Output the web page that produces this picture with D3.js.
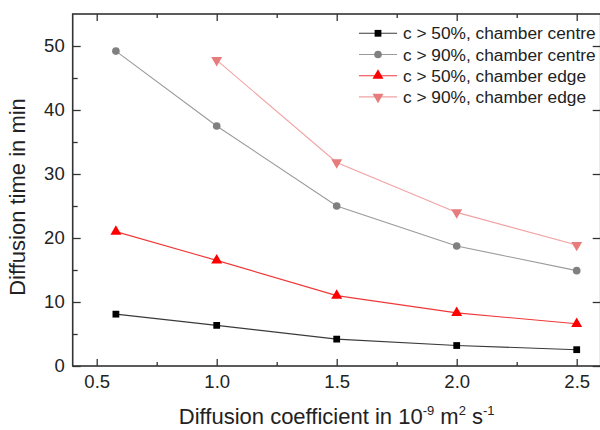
<!DOCTYPE html>
<html>
<head>
<meta charset="utf-8">
<script src="https://cdn.jsdelivr.net/npm/d3@7"></script>
<style>
  html, body { margin: 0; padding: 0; background: #fff; }
  svg { display: block; font-family: "Liberation Sans", Arial, sans-serif; }
</style>
</head>
<body>
<svg id="chart" width="600" height="430"></svg>
<script>
// Diffusion coefficient (10^-9 m^2/s)
const coeffs = [0.58, 1.0, 1.5, 2.0, 2.5];
// Diffusion times in min
const center50 = [8.1, 6.35, 4.2, 3.2, 2.55];
const center90 = [49.2, 37.5, 25.0, 18.75, 14.9];
const edge50   = [21.0, 16.5, 11.0, 8.3, 6.6];
const edge90   = [null, 47.8, 31.8, 24.0, 18.9];

const seriesNames = [
  "c > 50%, chamber centre",
  "c > 90%, chamber centre",
  "c > 50%, chamber edge",
  "c > 90%, chamber edge"
];
const xTicks = [0.5, 1.0, 1.5, 2.0, 2.5];
const yTicks = [0, 10, 20, 30, 40, 50];

const series = [
  { name: seriesNames[0], values: center50, symbol: d3.symbolSquare,   size: 46, fill: "#000000", stroke: "#3a3a3a", rot: 0 },
  { name: seriesNames[1], values: center90, symbol: d3.symbolCircle,   size: 46, fill: "#808080", stroke: "#9a9a9a", rot: 0 },
  { name: seriesNames[2], values: edge50,   symbol: d3.symbolTriangle, size: 52, fill: "#ff0000", stroke: "#f03838", rot: 0 },
  { name: seriesNames[3], values: edge90,   symbol: d3.symbolTriangle, size: 52, fill: "#e67c7c", stroke: "#f2a2a2", rot: 180 }
];

const svg = d3.select("#chart");
const plotL = 72.7, plotR = 600.7, plotT = 14, plotB = 366;

const x = d3.scaleLinear().domain([0.4, 2.6]).range([plotL, plotR]);
const y = d3.scaleLinear().domain([0, 55]).range([plotB, plotT]);

const frameColor = "#333";
const tickFont = "18.5px";

// minor ticks
const minorX = d3.range(0.75, 2.6, 0.5);
const minorY = d3.range(5, 55, 10);

function styleAxis(g) {
  g.select(".domain").remove();
  g.selectAll(".tick line").attr("stroke", frameColor).attr("stroke-width", 1.3);
  g.selectAll(".tick text").attr("fill", "#222").style("font-size", tickFont);
}

// bottom axis
svg.append("g").attr("transform", `translate(0,${plotB})`)
  .call(d3.axisBottom(x).tickValues(xTicks).tickFormat(d3.format(".1f")).tickSize(-7).tickPadding(9))
  .call(styleAxis);
svg.append("g").attr("transform", `translate(0,${plotB})`)
  .call(d3.axisBottom(x).tickValues(minorX).tickFormat("").tickSize(-4))
  .call(styleAxis);
// top mirror ticks
svg.append("g").attr("transform", `translate(0,${plotT})`)
  .call(d3.axisTop(x).tickValues(xTicks).tickFormat("").tickSize(-7))
  .call(styleAxis);
svg.append("g").attr("transform", `translate(0,${plotT})`)
  .call(d3.axisTop(x).tickValues(minorX).tickFormat("").tickSize(-4))
  .call(styleAxis);

// left axis
svg.append("g").attr("transform", `translate(${plotL},0)`)
  .call(d3.axisLeft(y).tickValues(yTicks).tickSize(-8).tickPadding(8))
  .call(styleAxis);
svg.append("g").attr("transform", `translate(${plotL},0)`)
  .call(d3.axisLeft(y).tickValues(minorY).tickFormat("").tickSize(-5))
  .call(styleAxis);
// right mirror ticks
svg.append("g").attr("transform", `translate(${plotR},0)`)
  .call(d3.axisRight(y).tickValues(yTicks).tickFormat("").tickSize(-8))
  .call(styleAxis);

// frame
svg.append("rect")
  .attr("x", plotL).attr("y", plotT)
  .attr("width", plotR - plotL).attr("height", plotB - plotT)
  .attr("fill", "none").attr("stroke", frameColor).attr("stroke-width", 1.6);

// series lines and markers
const line = d3.line()
  .defined(d => d.v != null)
  .x(d => x(d.x)).y(d => y(d.v));

series.forEach(s => {
  const pts = coeffs.map((c, i) => ({ x: c, v: s.values[i] }));
  svg.append("path")
    .datum(pts)
    .attr("d", line)
    .attr("fill", "none")
    .attr("stroke", s.stroke)
    .attr("stroke-width", 1.1);
  svg.append("g").selectAll("path")
    .data(pts.filter(d => d.v != null))
    .join("path")
    .attr("d", d3.symbol().type(s.symbol).size(s.size))
    .attr("transform", d => `translate(${x(d.x)},${y(d.v)}) rotate(${s.rot})`)
    .attr("fill", s.fill);
});

// legend
const legend = svg.append("g");
series.forEach((s, i) => {
  const ly = 33.3 + i * 21.2;
  legend.append("line")
    .attr("x1", 359).attr("x2", 397).attr("y1", ly).attr("y2", ly)
    .attr("stroke", s.stroke).attr("stroke-width", 1.1);
  legend.append("path")
    .attr("d", d3.symbol().type(s.symbol).size(s.size)())
    .attr("transform", `translate(378,${ly}) rotate(${s.rot})`)
    .attr("fill", s.fill);
  legend.append("text")
    .attr("x", 403).attr("y", ly + 6)
    .attr("fill", "#222")
    .style("font-size", "17.3px")
    .text(s.name);
});

// axis titles
const xTitle = svg.append("text")
  .attr("x", (plotL + plotR) / 2).attr("y", 424)
  .attr("text-anchor", "middle")
  .attr("fill", "#222")
  .style("font-size", "22px");
xTitle.append("tspan").text("Diffusion coefficient in 10");
xTitle.append("tspan").attr("dy", -9).style("font-size", "13px").text("-9");
xTitle.append("tspan").attr("dy", 9).text(" m");
xTitle.append("tspan").attr("dy", -9).style("font-size", "13px").text("2");
xTitle.append("tspan").attr("dy", 9).text(" s");
xTitle.append("tspan").attr("dy", -9).style("font-size", "13px").text("-1");

svg.append("text")
  .attr("transform", `translate(25,${197}) rotate(-90)`)
  .attr("text-anchor", "middle")
  .attr("fill", "#222")
  .style("font-size", "22px")
  .text("Diffusion time in min");
</script>
</body>
</html>
